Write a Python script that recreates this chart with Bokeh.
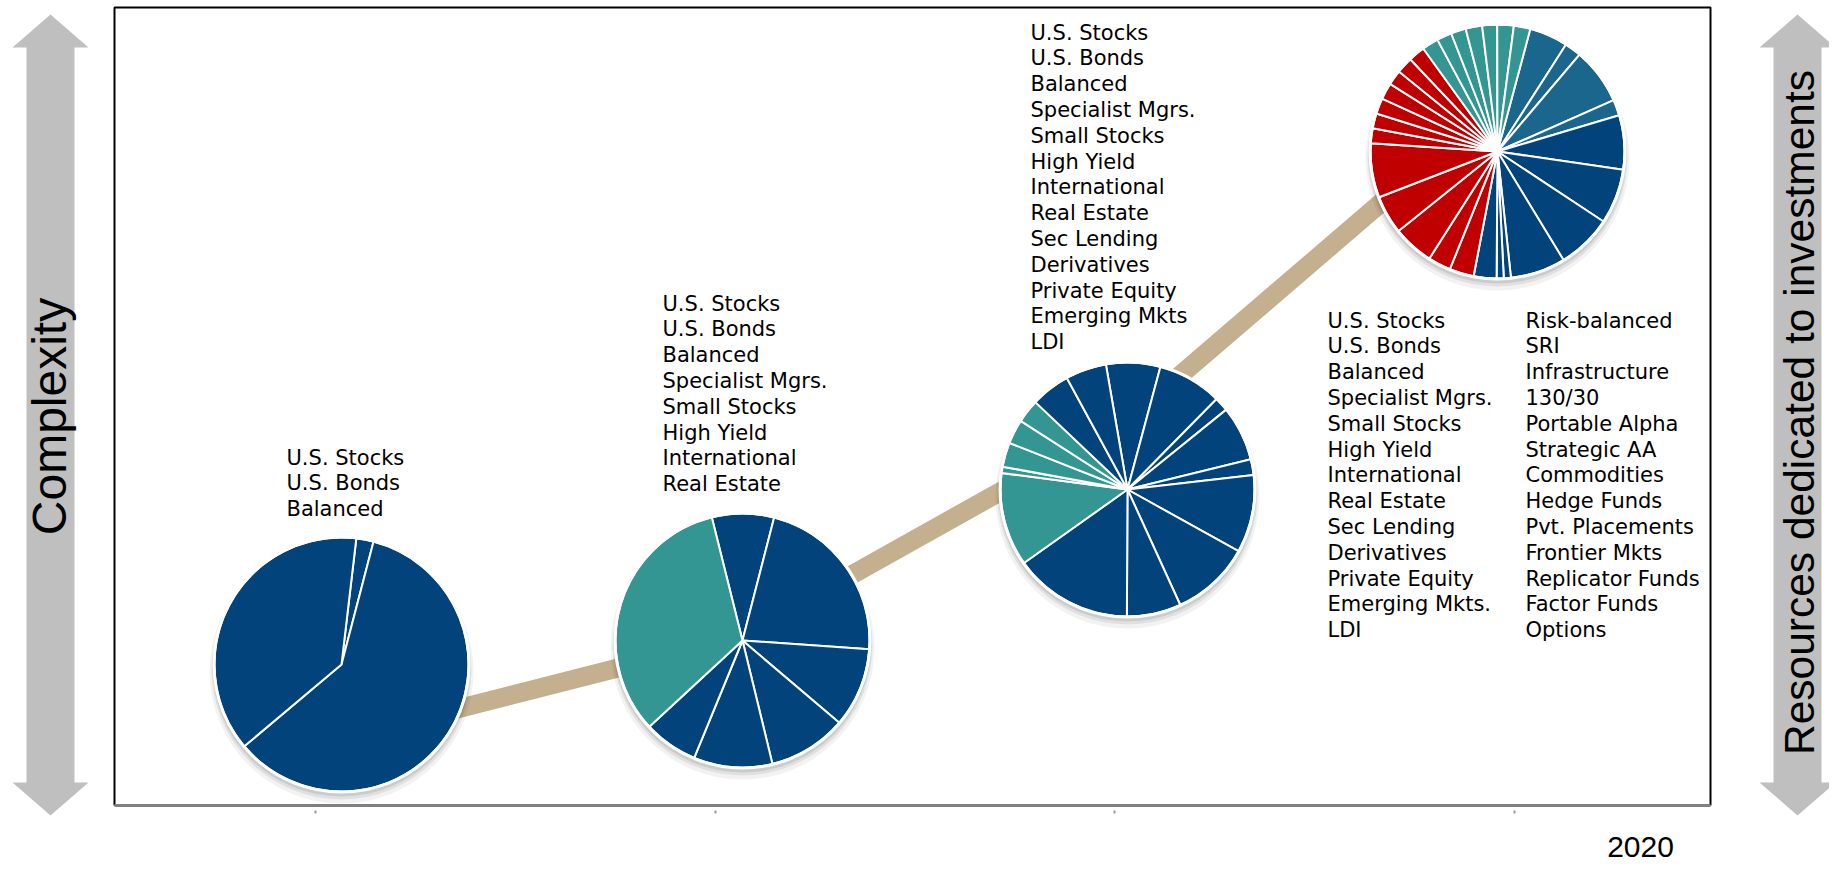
import numpy as np
from bokeh.plotting import figure
from bokeh.models import Range1d
from bokeh.core.properties import value
from bokeh.embed import file_html
from bokeh.resources import INLINE

# ---------------- data ----------------
stage_ticks = [315, 715, 1114, 1514]          # stage tick positions (x, px)
pie_x = [341, 742, 1127, 1497]                # pie centres (x, px)
pie_top = [664, 640, 489, 151]                # pie centres (px from top)
pie_start = [6.7, 346.0, 350.2, 15.0]         # bearing of first slice edge (deg, clockwise from 12 o'clock)

pie1_shares = [2.2, 59.8, 38.0]
pie1_groups = ["core", "core", "core"]

pie2_shares = [7.9, 22.1, 10.1, 10.0, 10.0, 6.9, 33.0]
pie2_groups = ["core"] * 6 + ["alt"]

pie3_shares = [6.9, 8.2, 1.8, 7.0, 2.0, 9.9, 10.1, 6.9, 15.1,
               11.9, 0.8, 3.1, 3.1, 3.0, 5.0, 5.2]
pie3_groups = ["core"] * 9 + ["alt"] * 5 + ["core"] * 2

pie4_shares = [4.9, 2.1, 7.2, 2.0,
               6.9, 7.0, 7.0, 7.0, 0.9, 0.9, 2.9,
               3.1, 2.9, 5.2, 4.9, 6.9, 1.9, 1.9, 2.0, 2.1, 1.9, 2.1, 2.1,
               2.1, 1.9, 1.9, 2.1, 1.9, 2.1, 2.1]
pie4_groups = (["steel"] * 4 + ["core"] * 7 + ["new"] * 12 + ["alt"] * 7)

list1 = ["U.S. Stocks", "U.S. Bonds", "Balanced"]
list2 = ["U.S. Stocks", "U.S. Bonds", "Balanced", "Specialist Mgrs.", "Small Stocks",
         "High Yield", "International", "Real Estate"]
list3 = ["U.S. Stocks", "U.S. Bonds", "Balanced", "Specialist Mgrs.", "Small Stocks",
         "High Yield", "International", "Real Estate", "Sec Lending", "Derivatives",
         "Private Equity", "Emerging Mkts", "LDI"]
list4a = ["U.S. Stocks", "U.S. Bonds", "Balanced", "Specialist Mgrs.", "Small Stocks",
          "High Yield", "International", "Real Estate", "Sec Lending", "Derivatives",
          "Private Equity", "Emerging Mkts.", "LDI"]
list4b = ["Risk-balanced", "SRI", "Infrastructure", "130/30", "Portable Alpha",
          "Strategic AA", "Commodities", "Hedge Funds", "Pvt. Placements",
          "Frontier Mkts", "Replicator Funds", "Factor Funds", "Options"]

trend_x = [345, 741, 1127, 1460]
trend_top = [737, 636, 420, 134]

left_label = "Complexity"
right_label = "Resources dedicated to investments"
year_label = "2020"

# ---------------- styling ----------------
COLORS = {"core": "#01437A", "alt": "#349692", "steel": "#1B668C", "new": "#C00000"}
W, H = 1829, 872


def Y(v):
    return 872 - np.asarray(v, dtype=float)


p = figure(width=W, height=H, output_backend="svg", toolbar_location=None,
           x_range=Range1d(0, W), y_range=Range1d(872 - H, 872),
           x_axis_location=None, y_axis_location=None, min_border=0,
           background_fill_color="white", border_fill_color="white")
p.outline_line_color = None
p.grid.visible = False

# side arrows
def arrow(cx):
    hw_head, hw_shaft = 38, 24
    top, head_b, foot_b, bot = 14, 47, 782, 815
    xs = [cx, cx + hw_head, cx + hw_shaft, cx + hw_shaft, cx + hw_head, cx,
          cx - hw_head, cx - hw_shaft, cx - hw_shaft, cx - hw_head]
    ys = [top, head_b, head_b, foot_b, foot_b, bot, foot_b, foot_b, head_b, head_b]
    p.patch(xs, Y(ys), fill_color="#BFBFBF", line_color=None)

arrow(50)
arrow(1797)

p.text(x=[49], y=Y([416]), text=[left_label], angle=90, angle_units="deg",
       text_align="center", text_baseline="middle", text_font=value("Liberation Sans"),
       text_font_size="48px", text_color="black")
p.text(x=[1799], y=Y([412]), text=[right_label], angle=90, angle_units="deg",
       text_align="center", text_baseline="middle", text_font=value("Liberation Sans"),
       text_font_size="42.5px", text_color="black")

# frame
p.line([114, 114, 1710, 1710], Y([805, 7, 7, 805]), line_color="black", line_width=2)
p.line([114, 1710], Y([805, 805]), line_color="#808080", line_width=3)
p.segment(x0=stage_ticks, y0=Y([810] * 4), x1=stage_ticks, y1=Y([813] * 4),
          line_color="#9A9A9A", line_width=2)
p.text(x=[1640], y=Y([846]), text=[year_label], text_align="center",
       text_baseline="alphabetic", text_font=value("Liberation Sans"),
       text_font_size="30px", text_color="black")

# trend band
p.line(trend_x, Y(trend_top), line_width=19, line_color="#C4B08F", line_join="miter")

# pies
R = 127
pies = [(pie1_shares, pie1_groups), (pie2_shares, pie2_groups),
        (pie3_shares, pie3_groups), (pie4_shares, pie4_groups)]
for i, (shares, groups) in enumerate(pies):
    cx, cy = pie_x[i], float(Y(pie_top[i]))
    for dy, rr, a in [(7, R + 5, 0.05), (5, R + 3, 0.07), (3, R + 2, 0.09)]:
        p.circle(x=[cx], y=[cy - dy], radius=rr, fill_color="black", fill_alpha=a,
                 line_color=None)
    s = np.asarray(shares, dtype=float)
    deg = s / s.sum() * 360.0
    b1 = pie_start[i] + np.cumsum(deg)
    b0 = b1 - deg
    p.wedge(x=[cx] * len(s), y=[cy] * len(s), radius=R,
            start_angle=list(90 - b1), end_angle=list(90 - b0),
            start_angle_units="deg", end_angle_units="deg",
            direction="anticlock", fill_color=[COLORS[g] for g in groups],
            line_color="white", line_width=2)
    p.circle(x=[cx], y=[cy], radius=R + 0.5, fill_color=None, line_color="white",
             line_width=3)

# text lists
SP = 25.8
def text_list(items, x0, base_top):
    ys = [base_top + k * SP for k in range(len(items))]
    p.text(x=[x0] * len(items), y=Y(ys), text=items, text_align="left",
           text_baseline="alphabetic", text_font=value("DejaVu Sans"),
           text_font_size="21px", text_color="black")

text_list(list1, 286, 457)
text_list(list2, 662, 303)
text_list(list3, 1030, 32)
text_list(list4a, 1327, 320)
text_list(list4b, 1525, 320)

open("out.html", "w").write(file_html(p, INLINE))
